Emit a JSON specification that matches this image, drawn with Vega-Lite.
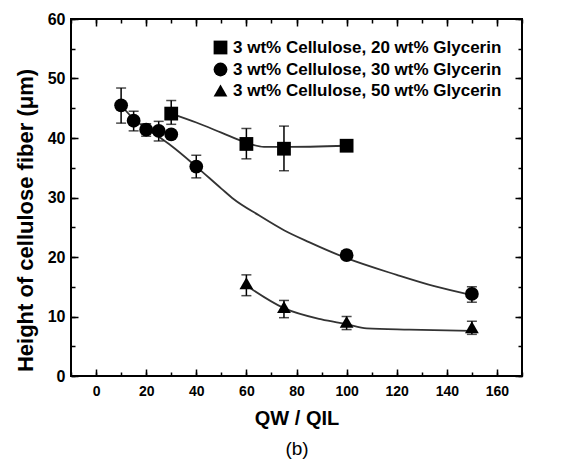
{
  "$schema": "https://vega.github.io/schema/vega-lite/v6.json",
  "width": 451,
  "height": 357,
  "autosize": "none",
  "padding": {"left": 71, "top": 19, "right": 43, "bottom": 92},
  "background": "white",
  "data": {"values": [
    {"kind": "pt", "series": "3 wt% Cellulose, 20 wt% Glycerin", "x": 30, "y": 44.1, "lo": 42.3, "hi": 46.3},
    {"kind": "pt", "series": "3 wt% Cellulose, 20 wt% Glycerin", "x": 60, "y": 39.0, "lo": 36.5, "hi": 41.6},
    {"kind": "pt", "series": "3 wt% Cellulose, 20 wt% Glycerin", "x": 75, "y": 38.2, "lo": 34.5, "hi": 42.0},
    {"kind": "pt", "series": "3 wt% Cellulose, 20 wt% Glycerin", "x": 100, "y": 38.7, "lo": null, "hi": null},
    {"kind": "pt", "series": "3 wt% Cellulose, 30 wt% Glycerin", "x": 10, "y": 45.5, "lo": 42.5, "hi": 48.4},
    {"kind": "pt", "series": "3 wt% Cellulose, 30 wt% Glycerin", "x": 15, "y": 42.9, "lo": 41.2, "hi": 44.5},
    {"kind": "pt", "series": "3 wt% Cellulose, 30 wt% Glycerin", "x": 20, "y": 41.4, "lo": 40.3, "hi": 42.4},
    {"kind": "pt", "series": "3 wt% Cellulose, 30 wt% Glycerin", "x": 25, "y": 41.2, "lo": 39.5, "hi": 42.8},
    {"kind": "pt", "series": "3 wt% Cellulose, 30 wt% Glycerin", "x": 30, "y": 40.6, "lo": null, "hi": null},
    {"kind": "pt", "series": "3 wt% Cellulose, 30 wt% Glycerin", "x": 40, "y": 35.2, "lo": 33.3, "hi": 37.1},
    {"kind": "pt", "series": "3 wt% Cellulose, 30 wt% Glycerin", "x": 100, "y": 20.3, "lo": 19.6, "hi": 21.0},
    {"kind": "pt", "series": "3 wt% Cellulose, 30 wt% Glycerin", "x": 150, "y": 13.8, "lo": 12.4, "hi": 15.0},
    {"kind": "pt", "series": "3 wt% Cellulose, 50 wt% Glycerin", "x": 60, "y": 15.6, "lo": 13.5, "hi": 17.0},
    {"kind": "pt", "series": "3 wt% Cellulose, 50 wt% Glycerin", "x": 75, "y": 11.6, "lo": 9.8, "hi": 12.7},
    {"kind": "pt", "series": "3 wt% Cellulose, 50 wt% Glycerin", "x": 100, "y": 9.1, "lo": 7.8, "hi": 10.0},
    {"kind": "pt", "series": "3 wt% Cellulose, 50 wt% Glycerin", "x": 150, "y": 8.2, "lo": 7.0, "hi": 9.2},
    {"kind": "fit", "series": "S20", "x": 30, "y": 44.1},
    {"kind": "fit", "series": "S20", "x": 40, "y": 42.6},
    {"kind": "fit", "series": "S20", "x": 50, "y": 40.9},
    {"kind": "fit", "series": "S20", "x": 60, "y": 39.2},
    {"kind": "fit", "series": "S20", "x": 67, "y": 38.5},
    {"kind": "fit", "series": "S20", "x": 75, "y": 38.5},
    {"kind": "fit", "series": "S20", "x": 100, "y": 38.7},
    {"kind": "fit", "series": "C30", "x": 10, "y": 45.5},
    {"kind": "fit", "series": "C30", "x": 15, "y": 43.2},
    {"kind": "fit", "series": "C30", "x": 20, "y": 41.6},
    {"kind": "fit", "series": "C30", "x": 25, "y": 40.2},
    {"kind": "fit", "series": "C30", "x": 30, "y": 38.7},
    {"kind": "fit", "series": "C30", "x": 40, "y": 35.2},
    {"kind": "fit", "series": "C30", "x": 50, "y": 31.5},
    {"kind": "fit", "series": "C30", "x": 55, "y": 29.7},
    {"kind": "fit", "series": "C30", "x": 65, "y": 27.0},
    {"kind": "fit", "series": "C30", "x": 75, "y": 24.5},
    {"kind": "fit", "series": "C30", "x": 85, "y": 22.5},
    {"kind": "fit", "series": "C30", "x": 100, "y": 19.8},
    {"kind": "fit", "series": "C30", "x": 120, "y": 17.0},
    {"kind": "fit", "series": "C30", "x": 135, "y": 15.1},
    {"kind": "fit", "series": "C30", "x": 150, "y": 13.6},
    {"kind": "fit", "series": "T50", "x": 60, "y": 15.2},
    {"kind": "fit", "series": "T50", "x": 75, "y": 11.4},
    {"kind": "fit", "series": "T50", "x": 90, "y": 9.5},
    {"kind": "fit", "series": "T50", "x": 100, "y": 8.7},
    {"kind": "fit", "series": "T50", "x": 108, "y": 8.0},
    {"kind": "fit", "series": "T50", "x": 125, "y": 7.8},
    {"kind": "fit", "series": "T50", "x": 150, "y": 7.6}
  ]},
  "resolve": {"scale": {"x": "shared", "y": "shared"}, "axis": {"x": "independent", "y": "independent"}},
  "layer": [
    {
      "transform": [{"filter": "datum.kind == 'fit'"}],
      "mark": {"type": "line", "color": "#333333", "strokeWidth": 1.8, "interpolate": "monotone"},
      "encoding": {
        "x": {"field": "x", "type": "quantitative", "scale": {"domain": [-10, 170], "nice": false, "zero": false},
          "axis": {"orient": "bottom", "tickCount": 9, "ticks": false, "grid": true, "gridColor": "black", "gridWidth": 1.5, "gridOpacity": 1, "gridDash": [7, 343, 7, 100], "labelPadding": 8, "labelFontSize": 14, "title": "QW / QIL", "titleFontSize": 20, "titlePadding": 10}},
        "y": {"field": "y", "type": "quantitative", "scale": {"domain": [0, 60], "nice": false},
          "axis": {"orient": "left", "tickCount": 6, "ticks": false, "grid": true, "gridColor": "black", "gridWidth": 1.5, "gridOpacity": 1, "gridDash": [7, 437, 7, 100], "labelPadding": 6, "labelFontSize": 16, "title": "Height of cellulose fiber (μm)", "titleFontSize": 22, "titlePadding": 10, "titleY": 201}},
        "detail": {"field": "series"}
      }
    },
    {
      "transform": [{"filter": "datum.kind == 'pt' && datum.lo != null"}],
      "mark": {"type": "rule", "color": "black", "strokeWidth": 1.5},
      "encoding": {
        "x": {"field": "x", "type": "quantitative", "axis": null},
        "y": {"field": "lo", "type": "quantitative", "axis": null},
        "y2": {"field": "hi"}
      }
    },
    {
      "transform": [{"filter": "datum.kind == 'pt' && datum.lo != null"}],
      "mark": {"type": "tick", "orient": "horizontal", "color": "black", "size": 10, "thickness": 1.5},
      "encoding": {
        "x": {"field": "x", "type": "quantitative",
          "axis": {"orient": "bottom", "tickCount": 9, "ticks": false, "labels": false, "title": "(b)", "titleFontWeight": "normal", "titleFontSize": 19, "titlePadding": 63}},
        "y": {"field": "lo", "type": "quantitative", "axis": null}
      }
    },
    {
      "transform": [{"filter": "datum.kind == 'pt' && datum.lo != null"}],
      "mark": {"type": "tick", "orient": "horizontal", "color": "black", "size": 10, "thickness": 1.5},
      "encoding": {
        "x": {"field": "x", "type": "quantitative", "axis": null},
        "y": {"field": "hi", "type": "quantitative", "axis": null}
      }
    },
    {
      "transform": [{"filter": "datum.kind == 'pt'"}],
      "mark": {"type": "point", "filled": true, "color": "black", "size": 190, "opacity": 1},
      "encoding": {
        "x": {"field": "x", "type": "quantitative",
          "axis": {"orient": "top", "tickCount": 18, "ticks": false, "labels": false, "title": null, "grid": true, "gridColor": "black", "gridWidth": 1.5, "gridOpacity": 1, "gridDash": [4, 349, 4, 100]}},
        "y": {"field": "y", "type": "quantitative",
          "axis": {"orient": "right", "tickCount": 12, "ticks": false, "labels": false, "title": null, "grid": true, "gridColor": "black", "gridWidth": 1.5, "gridOpacity": 1, "gridDash": [4, 443, 4, 100]}},
        "shape": {"field": "series", "type": "nominal",
          "scale": {"domain": ["3 wt% Cellulose, 20 wt% Glycerin", "3 wt% Cellulose, 30 wt% Glycerin", "3 wt% Cellulose, 50 wt% Glycerin"], "range": ["square", "circle", "triangle-up"]},
          "legend": {"title": null, "orient": "none", "legendX": 141, "legendY": 20}}
      }
    }
  ],
  "config": {
    "view": {"stroke": "black", "strokeWidth": 2},
    "axis": {"domain": false, "grid": false, "labelFont": "Liberation Sans", "labelFontWeight": "bold", "labelColor": "black", "titleFont": "Liberation Sans", "titleFontWeight": "bold", "titleColor": "black"},
    "legend": {"labelFont": "Liberation Sans", "labelFontSize": 17, "labelFontWeight": "bold", "labelColor": "black", "symbolSize": 190, "rowPadding": 1, "labelLimit": 400, "padding": 0, "labelOffset": 4}
  }
}
